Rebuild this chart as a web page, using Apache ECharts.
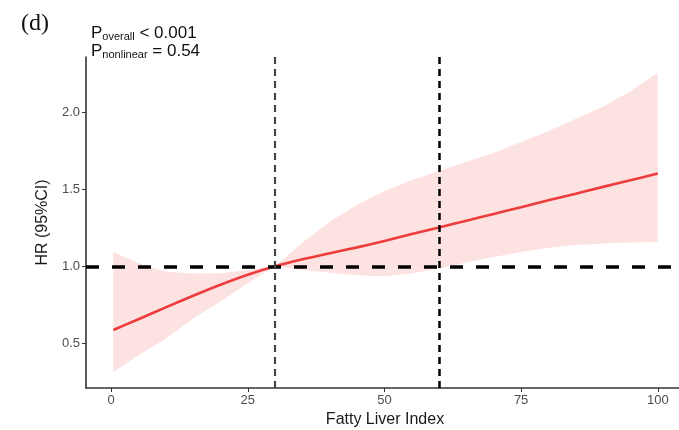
<!DOCTYPE html>
<html>
<head>
<meta charset="utf-8">
<script src="https://cdn.jsdelivr.net/npm/echarts@6/dist/echarts.min.js"></script>
<style>
html, body { margin: 0; padding: 0; background: #fff; }
#chart { width: 679px; height: 430px; }
</style>
</head>
<body>
<div id="chart"></div>
<script>
// spline estimates
var fli = [0.4, 5, 10, 15, 20, 25, 30, 35, 40, 45, 50, 55, 60, 65, 70, 75, 80, 85, 90, 95, 100];
var hr = [0.585, 0.655, 0.732, 0.808, 0.88, 0.945, 1.0, 1.045, 1.085, 1.123, 1.165, 1.21, 1.253, 1.297, 1.341, 1.385, 1.43, 1.472, 1.517, 1.56, 1.604];
var ciUpper = [1.093, 1.02, 0.965, 0.953, 0.955, 0.975, 1.0, 1.155, 1.29, 1.40, 1.49, 1.56, 1.62, 1.68, 1.74, 1.81, 1.88, 1.96, 2.04, 2.14, 2.26];
var ciLower = [0.31, 0.42, 0.53, 0.66, 0.77, 0.89, 1.0, 0.975, 0.958, 0.942, 0.935, 0.955, 0.985, 1.025, 1.06, 1.093, 1.12, 1.138, 1.148, 1.155, 1.158];
var refX = [30, 60];
var refY = 1;
var xTicks = [0, 25, 50, 75, 100];
var yTicks = [0.5, 1.0, 1.5, 2.0];

var chart = echarts.init(document.getElementById("chart"), null, { renderer: "canvas" });

function pairs(ys) {
    return fli.map(function(x, i) { return [x, ys[i]]; });
}

var bandRows = fli.map(function(x, i) { return [x, ciLower[i], ciUpper[i]]; });
var font = "Liberation Sans, Arial, sans-serif";

// whole ribbon as one polygon: upper edge left->right, lower edge back
function renderBand(params, api) {
    if (params.dataIndex !== 0) return null;
    var top = [], bottom = [];
    for (var i = 0; i < bandRows.length; i++) {
        top.push(api.coord([bandRows[i][0], bandRows[i][2]]));
        bottom.push(api.coord([bandRows[i][0], bandRows[i][1]]));
    }
    var pts = top.concat(bottom.reverse());
    return {
        type: "polygon",
        shape: { points: pts },
        style: { fill: "#fde2e2", stroke: null },
        silent: true
    };
}

var option = {
    animation: false,
    grid: {
        left: 86,
        right: -5,
        top: 57,
        bottom: 42,
        containLabel: false,
        outerBoundsMode: "none"
    },
    xAxis: {
        type: "value",
        min: -4.6,
        max: 104.8,
        name: "Fatty Liver Index",
        nameLocation: "middle",
        nameGap: 22,
        nameTextStyle: { fontFamily: font, fontSize: 16, color: "#1a1a1a" },
        axisLine: { show: true, onZero: false, lineStyle: { color: "#333", width: 1.6 } },
        axisTick: { show: true, length: 4, customValues: xTicks, lineStyle: { color: "#333" } },
        axisLabel: { customValues: xTicks, fontFamily: font, fontSize: 13, color: "#4d4d4d", margin: 6 },
        splitLine: { show: false }
    },
    yAxis: {
        type: "value",
        min: 0.207,
        max: 2.363,
        name: "HR (95%CI)",
        nameLocation: "middle",
        nameGap: 31,
        nameTextStyle: { fontFamily: font, fontSize: 16, color: "#1a1a1a" },
        axisLine: { show: true, onZero: false, lineStyle: { color: "#333", width: 1.6 } },
        axisTick: { show: true, length: 4, customValues: yTicks, lineStyle: { color: "#333" } },
        axisLabel: {
            customValues: yTicks,
            fontFamily: font,
            fontSize: 13,
            color: "#4d4d4d",
            margin: 6,
            formatter: function(v) { return v.toFixed(1); }
        },
        splitLine: { show: false }
    },
    graphic: [
        {
            type: "text",
            left: 21,
            top: 12,
            style: { text: "(d)", fontFamily: "Liberation Serif, Times New Roman, serif", fontSize: 24, fill: "#111" }
        },
        {
            type: "text",
            left: 91,
            top: 25,
            style: {
                text: "{p|P}{s|overall}{p| < 0.001}\n{p|P}{s|nonlinear}{p| = 0.54}",
                fill: "#111",
                rich: {
                    p: { fontFamily: font, fontSize: 17, lineHeight: 18, fill: "#111" },
                    s: { fontFamily: font, fontSize: 11, lineHeight: 10, verticalAlign: "bottom", fill: "#111" }
                }
            }
        }
    ],
    series: [
        {
            name: "CI",
            type: "custom",
            data: bandRows,
            encode: { x: 0, y: [1, 2] },
            renderItem: renderBand,
            silent: true,
            z: 1
        },
        {
            name: "HR",
            type: "line",
            data: pairs(hr),
            smooth: 0.25,
            symbol: "none",
            lineStyle: { color: "#ee3b3b", width: 2.6 },
            z: 4
        },
        {
            name: "refs",
            type: "line",
            data: [],
            z: 6,
            markLine: {
                silent: true,
                symbol: "none",
                label: { show: false },
                animation: false,
                data: [
                    { yAxis: refY, lineStyle: { color: "#000", width: 3.5, type: [13, 13] } },
                    { xAxis: refX[0], lineStyle: { color: "#444", width: 2.2, type: [7, 5] } },
                    { xAxis: refX[1], lineStyle: { color: "#000", width: 2.5, type: [7, 5] } }
                ]
            }
        }
    ]
};
chart.setOption(option);
</script>
</body>
</html>
